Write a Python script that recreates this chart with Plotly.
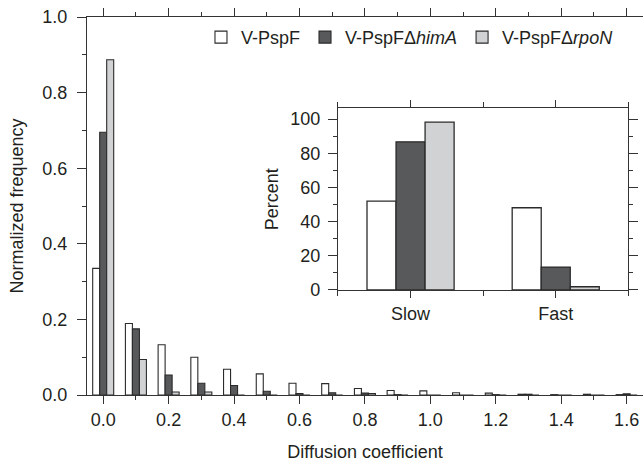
import plotly.graph_objects as go

# ---- data ----
bins = [0.0, 0.1, 0.2, 0.3, 0.4, 0.5, 0.6, 0.7, 0.8, 0.9, 1.0, 1.1, 1.2, 1.3, 1.4, 1.5, 1.6]
pspf = [0.335, 0.189, 0.133, 0.100, 0.068, 0.056, 0.031, 0.030, 0.017, 0.012, 0.011, 0.006, 0.005, 0.002, 0.001, 0.002, 0.001]
himA = [0.695, 0.175, 0.053, 0.031, 0.025, 0.010, 0.004, 0.006, 0.005, 0.001, 0.0, 0.0, 0.001, 0.002, 0.0, 0.0, 0.003]
rpoN = [0.887, 0.094, 0.008, 0.008, 0.0, 0.0, 0.0, 0.0, 0.004, 0.0, 0.0, 0.0, 0.0, 0.0, 0.0, 0.0, 0.0]

categories = ["Slow", "Fast"]
pct_pspf = [52.0, 48.1]
pct_himA = [86.7, 13.4]
pct_rpoN = [98.2, 1.9]

names = ["V-PspF", "V-PspF\u0394<i>himA</i>", "V-PspF\u0394<i>rpoN</i>"]
fills = ["#ffffff", "#58595b", "#d1d2d4"]
edge = "#2b2b2b"
FONT = "Liberation Sans, Arial, Helvetica, sans-serif"
TXT = "#231f20"

fig = go.Figure()

main_w = 0.0214
main_off = [-1.5 * main_w, -0.5 * main_w, 0.5 * main_w]
for vals, nm, fc, off in zip([pspf, himA, rpoN], names, fills, main_off):
    fig.add_trace(go.Bar(x=bins, y=vals, name=nm, width=main_w, offset=off,
                         marker=dict(color=fc, line=dict(color=edge, width=1.1)),
                         xaxis="x", yaxis="y", showlegend=True))

cat_x = list(range(len(categories)))
in_w = 0.2
in_off = [-0.3, -0.1, 0.1]
for vals, nm, fc, off in zip([pct_pspf, pct_himA, pct_rpoN], names, fills, in_off):
    fig.add_trace(go.Bar(x=cat_x, y=vals, name=nm, width=in_w, offset=off,
                         marker=dict(color=fc, line=dict(color=edge, width=1.3)),
                         xaxis="x2", yaxis="y2", showlegend=False))

axcommon = dict(showline=True, linecolor="#333333", linewidth=1.3, showgrid=False,
                zeroline=False, ticks="outside", tickcolor="#333333", tickwidth=1.2,
                tickfont=dict(family=FONT, size=18, color=TXT))

fig.update_layout(
    width=643, height=462,
    margin=dict(l=86.5, r=0, t=17, b=67),
    plot_bgcolor="white", paper_bgcolor="white",
    barmode="overlay",
    font=dict(family=FONT, size=18, color=TXT),
    xaxis=dict(**axcommon, range=[-0.0495, 1.65], tickmode="linear", tick0=0, dtick=0.2,
               tickformat=".1f", ticklen=8, mirror="ticks",
               minor=dict(ticks="outside", ticklen=4, tick0=0, dtick=0.1, tickcolor="#333333"),
               title=dict(text="Diffusion coefficient", font=dict(size=18), standoff=17)),
    yaxis=dict(**axcommon, range=[0, 1.0], tickmode="linear", tick0=0, dtick=0.2,
               tickformat=".1f", ticklen=9, ticklabelstandoff=6,
               minor=dict(ticks="outside", ticklen=4, tick0=0, dtick=0.1, tickcolor="#333333"),
               title=dict(text="Normalized frequency", font=dict(size=18), standoff=13)),
    xaxis2=dict(**axcommon, domain=[0.4514, 0.9736], anchor="y2", range=[-0.5, 1.5],
                tickmode="array", tickvals=cat_x, ticktext=categories, ticklen=7, mirror="ticks",
                minor=dict(ticks="outside", ticklen=5, tick0=-0.5, dtick=1, tickcolor="#333333")),
    yaxis2=dict(**axcommon, domain=[0.2778, 0.7585], anchor="x2", range=[0, 106.3],
                tickmode="linear", tick0=0, dtick=20, ticklen=9, ticklabelstandoff=4, mirror="ticks",
                minor=dict(ticks="outside", ticklen=4, tick0=0, dtick=10, tickcolor="#333333"),
                title=dict(text="Percent", font=dict(size=18), standoff=6)),
    legend=dict(orientation="h", x=0.205, y=0.995, xanchor="left", yanchor="top",
                font=dict(family=FONT, size=18, color=TXT), bgcolor="rgba(0,0,0,0)",
                itemclick=False, tracegroupgap=0),
)

# remove the page's default 8px body margin so the 643x462 figure fills the window exactly
fig.write_html("out.html", config={"displayModeBar": False},
               post_script="document.body.style.margin='0';")
